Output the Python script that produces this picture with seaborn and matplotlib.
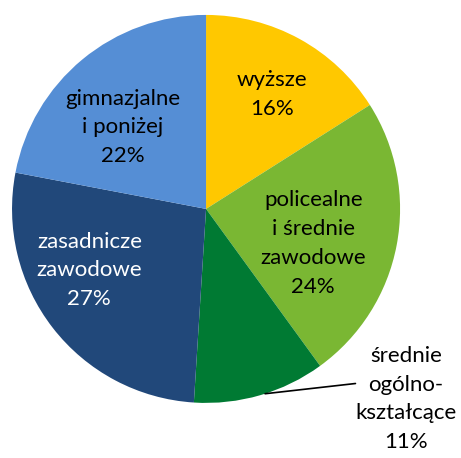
import numpy as np
import matplotlib.pyplot as plt
import seaborn as sns

# education level shares (%), clockwise from 12 o'clock
labels = ["wyższe", "policealne\ni średnie\nzawodowe", "średnie\nogólno-\nkształcące",
          "zasadnicze\nzawodowe", "gimnazjalne\ni poniżej"]
shares = [16, 24, 11, 27, 22]
colors = ["#FFC800", "#7AB733", "#007A33", "#21487A", "#558ED5"]
text_colors = ["black", "black", "black", "white", "black"]

sns.set_theme(style="white")
plt.rcParams['font.family'] = ['Lato', 'DejaVu Sans']

fig = plt.figure(figsize=(4.61, 4.58), dpi=100)
ax = fig.add_axes([0, 0, 1, 1])
wedges, _ = ax.pie(shares, colors=colors, startangle=90, counterclock=False,
                   radius=1, wedgeprops=dict(linewidth=0, edgecolor='none'))

# label placement: radius and angle tweak per slice (inside labels)
lab_r = [0.68, 0.58, None, 0.68, 0.60]
lab_da = [-1, -7, 1.5, -10, 6]
for w, lab, v, r, da, tc in zip(wedges, labels, shares, lab_r, lab_da, text_colors):
    mid = np.deg2rad((w.theta1 + w.theta2) / 2 + da)
    txt = f"{lab}\n{v}%"
    if r is None:
        # outside label with leader line
        ex, ey = np.cos(mid) * 1.0, np.sin(mid) * 1.0
        ax.plot([ex, 0.77], [ey, -0.90], color='black', lw=1.2)
        ax.text(1.03, -0.98, txt, ha='center', va='center', fontsize=16,
                color=tc, linespacing=1.55)
    else:
        ax.text(np.cos(mid) * r, np.sin(mid) * r, txt, ha='center', va='center',
                fontsize=16, color=tc, linespacing=1.55)

ax.set_xlim(-1.062, 1.314)
ax.set_ylim(-1.284, 1.077)
ax.set_aspect('auto')
ax.axis('off')
fig.savefig("out.png", dpi=100)
